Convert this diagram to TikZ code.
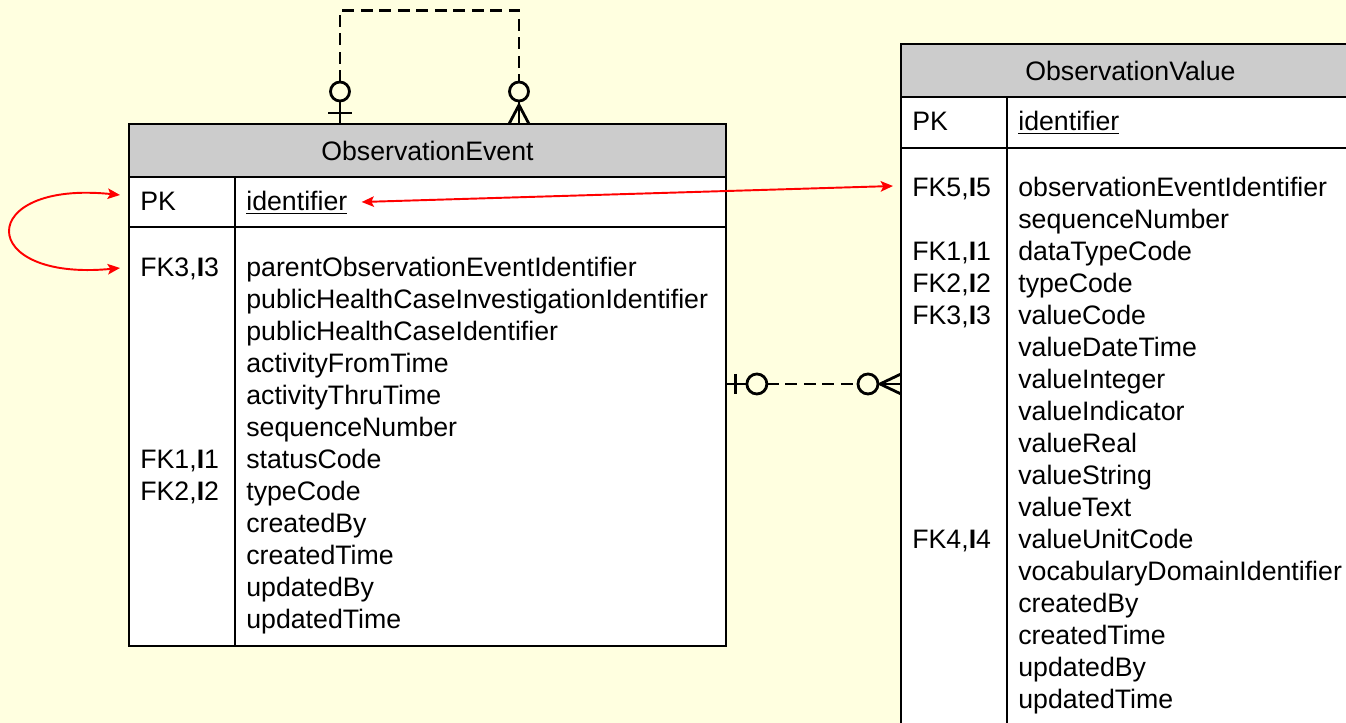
\documentclass[tikz,border=0pt]{standalone}
\usepackage{fontspec}
\setmainfont{Liberation Sans}
\usetikzlibrary{positioning, arrows.meta, calc}
\definecolor{paper}{RGB}{255,255,224}
\definecolor{headgray}{RGB}{204,204,204}

\begin{document}
\begin{tikzpicture}[
    x=0.02cm,
    y=-0.02cm,
    font=\fontsize{15.2}{18}\selectfont,
    tablehead/.style={
        draw=black,
        line width=1.1pt,
        fill=headgray,
        rectangle,
        inner sep=0pt,
        outer sep=0pt,
        anchor=north west
    },
    tablerow/.style={
        draw=black,
        line width=1.1pt,
        fill=white,
        rectangle,
        inner sep=0pt,
        outer sep=0pt,
        anchor=north west
    },
    field/.style={
        anchor=base west,
        inner sep=0pt
    },
    erline/.style={
        draw=black,
        line width=1.6pt
    },
    erdash/.style={
        erline,
        dash pattern=on 0.24cm off 0.13cm
    },
    keyarrow/.style={
        draw=red,
        line width=1.1pt,
        >={Stealth[length=7pt, width=6pt, inset=1.5pt]}
    }
    ]
    \useasboundingbox (0,0) rectangle (1346,723);
    \clip (0,0) rectangle (1346,723);
    \fill[paper] (0,0) rectangle (1346,723);

    % ObservationEvent
    \node[tablehead, minimum width=11.94cm, minimum height=1.06cm] (ev-head) at (129,124) {ObservationEvent};
    \node[tablerow, minimum width=11.94cm, minimum height=1cm] (ev-pkrow) at (ev-head.south west) {};
    \node[tablerow, minimum width=11.94cm, minimum height=8.38cm] (ev-body) at (ev-pkrow.south west) {};
    \draw[line width=1.1pt] ($(ev-pkrow.north west)+(106,0)$) -- ($(ev-body.south west)+(106,0)$);
    \node[field] (ev-pk) at (140,211) {PK};
    \node[field] (ev-id) at (246,211) {\underline{identifier}};
    \foreach \fname [count=\i from 0] in {parentObservationEventIdentifier,
        publicHealthCaseInvestigationIdentifier, publicHealthCaseIdentifier,
        activityFromTime, activityThruTime, sequenceNumber, statusCode,
        typeCode, createdBy, createdTime, updatedBy, updatedTime}
        \node[field] (ev-f\i) at (246,276+32*\i) {\fname};
    \foreach \k/\row in {3/0, 1/6, 2/7}
        \node[field] (ev-k\k) at (140,276+32*\row) {FK\k,\textbf{I}\k};

    % ObservationValue
    \node[tablehead, minimum width=9.18cm, minimum height=1.06cm] (vl-head) at (901,44) {ObservationValue};
    \node[tablerow, minimum width=9.18cm, minimum height=1.02cm] (vl-pkrow) at (vl-head.south west) {};
    \node[tablerow, minimum width=9.18cm, minimum height=12cm] (vl-body) at (vl-pkrow.south west) {};
    \draw[line width=1.1pt] ($(vl-pkrow.north west)+(106,0)$) -- ($(vl-body.south west)+(106,0)$);
    \node[field] (vl-pk) at (912,131) {PK};
    \node[field] (vl-id) at (1018,131) {\underline{identifier}};
    \foreach \fname [count=\i from 0] in {observationEventIdentifier, sequenceNumber,
        dataTypeCode, typeCode, valueCode, valueDateTime, valueInteger,
        valueIndicator, valueReal, valueString, valueText, valueUnitCode,
        vocabularyDomainIdentifier, createdBy, createdTime, updatedBy, updatedTime}
        \node[field] (vl-f\i) at (1018,196+32*\i) {\fname};
    \foreach \k/\row in {5/0, 1/2, 2/3, 3/4, 4/11}
        \node[field] (vl-k\k) at (912,196+32*\row) {FK\k,\textbf{I}\k};

    % key references
    \draw[keyarrow, <->] ($(ev-id.base east)+(14,-9)$) -- ($(vl-k5.base west)+(-19,-10)$);
    \draw[keyarrow, <->] ($(ev-pk.base west)+(-20,-16)$)
        .. controls ($(ev-pk.base west)+(-165,-31)$) and ($(ev-k3.base west)+(-165,6)$)
        .. ($(ev-k3.base west)+(-20,-8)$);

    % parent relation (top)
    \coordinate (top-a) at ($(ev-head.north west)+(211,0)$);
    \coordinate (top-b) at ($(ev-head.north west)+(390,0)$);
    \draw[erline] (top-a) -- ++(0,-23);
    \draw[erline] ($(top-a)+(-12,-11)$) -- ++(24,0);
    \draw[erline] ($(top-a)+(0,-32.5)$) circle[radius=0.19cm];
    \draw[erdash] ($(top-a)+(0,-42)$) -- ($(top-a)+(0,-113.5)$) -| ($(top-b)+(0,-42)$);
    \draw[erline] ($(top-b)+(0,-32.5)$) circle[radius=0.19cm];
    \draw[erline] ($(top-b)+(-10,0)$) -- ($(top-b)+(0,-19)$) -- ($(top-b)+(10,0)$);
    \draw[erline] (top-b) -- ++(0,-23);

    % event to value
    \coordinate (mid-a) at ($(ev-body.north east)+(0,157)$);
    \coordinate (mid-b) at (mid-a -| vl-body.west);
    \draw[erline] (mid-a) -- ++(21,0);
    \draw[erline] ($(mid-a)+(10,-10)$) -- ++(0,20);
    \draw[erline] ($(mid-a)+(31,0)$) circle[radius=0.2cm];
    \draw[erdash] ($(mid-a)+(41,0)$) -- ($(mid-b)+(-43,0)$);
    \draw[erline] ($(mid-b)+(-33,0)$) circle[radius=0.2cm];
    \draw[erline] ($(mid-b)+(0,-10)$) -- ($(mid-b)+(-21,0)$) -- ($(mid-b)+(0,10)$);
    \draw[erline] ($(mid-b)+(-23,0)$) -- (mid-b);
\end{tikzpicture}
\end{document}
